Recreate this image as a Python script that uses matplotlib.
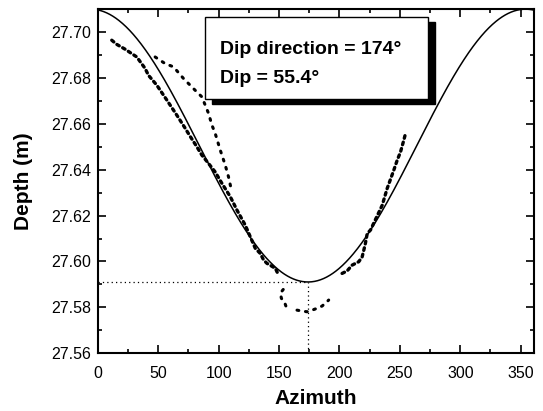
import numpy as np
import matplotlib
matplotlib.use("Agg")
import matplotlib.pyplot as plt
from matplotlib.patches import Rectangle
from matplotlib.ticker import MultipleLocator

plt.rcParams["font.family"] = ["Liberation Sans", "DejaVu Sans"]

# Fitted planar fracture
dip_direction = 174.0
dip = 55.4
borehole_radius = 0.041      # m
center_depth = 27.6505       # m

# Picked trace: lower-left branch
lower_az = [11.6, 15.7, 22.6, 32.3, 39.2, 42.0, 48.9, 57.2, 65.5, 72.4, 76.5,
            82.0, 86.2, 91.7, 97.2, 102.8, 109.7, 115.2, 122.1, 126.2, 130.4,
            134.5, 137.3, 140.0, 147.0, 149.7]
lower_depth = [27.6964, 27.6946, 27.6925, 27.6891, 27.6841, 27.6811, 27.6768,
               27.6703, 27.6637, 27.6580, 27.6545, 27.6500, 27.6463, 27.6427,
               27.6390, 27.6340, 27.6282, 27.6224, 27.6158, 27.6108, 27.6057,
               27.6035, 27.6006, 27.5992, 27.5970, 27.5940]

# Picked trace: upper-left branch
upper_az = [47.5, 55.8, 62.7, 71.0, 80.6, 86.2, 91.7, 94.5, 97.2, 101.4,
            105.5, 108.2, 109.7, 111.0]
upper_depth = [27.6891, 27.6862, 27.6848, 27.6797, 27.6746, 27.6717, 27.6645,
               27.6594, 27.6558, 27.6485, 27.6420, 27.6369, 27.6333, 27.6303]

# Picked trace: small hook below the trough
hook_az = [153.5, 151.1, 152.0, 154.4, 156.1]
hook_depth = [27.5878, 27.5862, 27.5839, 27.5825, 27.5800]

# Picked trace: bottom arc
arc_az = [164.9, 169.1, 173.2, 177.4, 181.5, 185.7, 189.8, 191.1]
arc_depth = [27.5788, 27.5784, 27.5781, 27.5788, 27.5796, 27.5806, 27.5825,
             27.5832]

# Picked trace: right branch
right_az = [202.2, 206.4, 210.5, 216.0, 218.8, 220.2, 221.5, 223.0, 225.7,
            235.4, 239.5, 245.0, 247.8, 250.6, 253.3, 254.7]
right_depth = [27.5948, 27.5959, 27.5984, 27.5999, 27.6020, 27.6050, 27.6079,
               27.6122, 27.6137, 27.6245, 27.6318, 27.6398, 27.6441, 27.6478,
               27.6529, 27.6558]

fig = plt.figure(figsize=(5.43, 4.11), dpi=100)
ax = fig.add_axes([0.18, 0.1404, 0.8034, 0.8377])

# Sinusoid of the fitted plane
az = np.linspace(0, 360, 721)
amp = borehole_radius * np.tan(np.radians(dip))
model = center_depth - amp * np.cos(np.radians(az - dip_direction))
ax.plot(az, model, color="black", lw=1.1)
min_depth = center_depth - amp

# Picked points
dense = dict(color="black", lw=2.4, ls=(0, (0.8, 1.2)), dash_capstyle="round")
sparse = dict(color="black", lw=2.2, ls=(0, (0.6, 2.2)), dash_capstyle="round")
ax.plot(lower_az, lower_depth, **dense)
ax.plot(upper_az, upper_depth, **sparse)
ax.plot(hook_az, hook_depth, **sparse)
ax.plot(arc_az, arc_depth, **sparse)
ax.plot(right_az, right_depth, **dense)

# Guides at the trough
ax.plot([0, dip_direction], [min_depth, min_depth], color="black", lw=0.9,
        ls=(0, (1, 2.5)))
ax.plot([dip_direction, dip_direction], [27.56, min_depth], color="black",
        lw=0.9, ls=(0, (1, 2.5)))

ax.set_xlim(0, 361)
ax.set_ylim(27.56, 27.71)
ax.xaxis.set_major_locator(MultipleLocator(50))
ax.xaxis.set_minor_locator(MultipleLocator(25))
ax.yaxis.set_major_locator(MultipleLocator(0.02))
ax.yaxis.set_minor_locator(MultipleLocator(0.01))
ax.yaxis.set_major_formatter(plt.FormatStrFormatter("%.2f"))
ax.tick_params(which="both", direction="in", top=True, right=True,
               labelsize=11.5, width=1.2)
ax.tick_params(which="major", length=6)
ax.tick_params(which="minor", length=3)
ax.tick_params(axis="x", which="major", pad=9)
ax.tick_params(axis="y", which="major", pad=5)
for s in ax.spines.values():
    s.set_linewidth(1.5)

ax.set_xlabel("Azimuth", fontsize=15, fontweight="bold", labelpad=6)
ax.set_ylabel("Depth (m)", fontsize=15, fontweight="bold", labelpad=13)

# Annotation box with drop shadow
bx, by, bw, bh = 0.246, 0.739, 0.511, 0.238
ax.add_patch(Rectangle((bx + 0.016, by - 0.0145), bw, bh, transform=ax.transAxes,
                       facecolor="black", edgecolor="black", zorder=5,
                       clip_on=False))
ax.add_patch(Rectangle((bx, by), bw, bh, transform=ax.transAxes,
                       facecolor="white", edgecolor="black", lw=1.0, zorder=6,
                       clip_on=False))
ax.text(0.281, 0.870, f"Dip direction = {dip_direction:.0f}\u00b0",
        transform=ax.transAxes, fontsize=14, fontweight="bold", zorder=7,
        va="baseline")
ax.text(0.281, 0.786, f"Dip = {dip:.1f}\u00b0", transform=ax.transAxes,
        fontsize=14, fontweight="bold", zorder=7, va="baseline")

fig.savefig("out.png", dpi=100)
